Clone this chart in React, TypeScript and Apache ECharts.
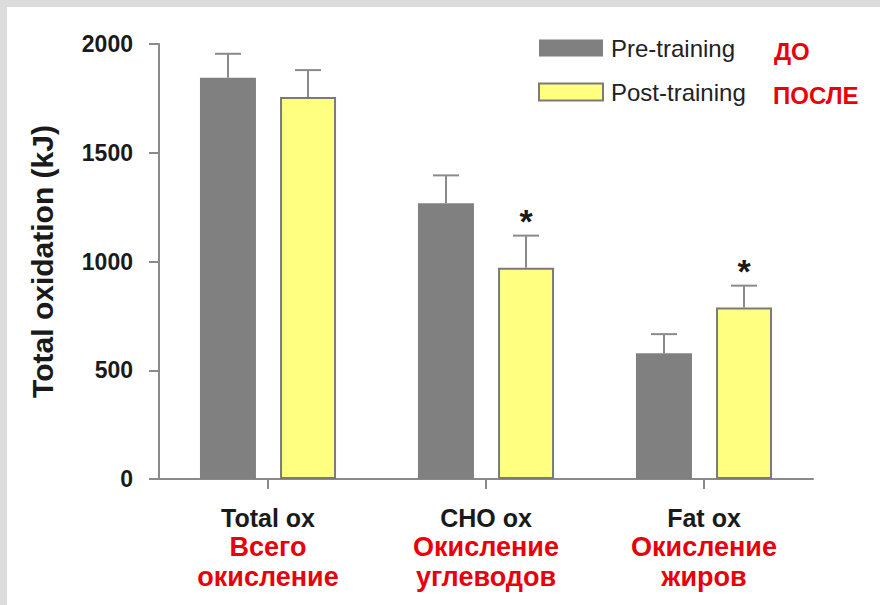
import React, { useEffect, useRef } from "react";
import * as echarts from "echarts";

const categories = ["Total ox", "CHO ox", "Fat ox"];
const categoriesRu = [
  ["Всего", "окисление"],
  ["Окисление", "углеводов"],
  ["Окисление", "жиров"],
];
const seriesNames = ["Pre-training", "Post-training"];
const seriesNamesRu = ["ДО", "ПОСЛЕ"];
const preValues = [1845, 1268, 578];
const postValues = [1756, 971, 788];
const preErr = [110, 128, 88];
const postErr = [124, 148, 101];
const preSignificant = [false, false, false];
const postSignificant = [false, true, true];
const yMin = 0;
const yMax = 2000;
const yInterval = 500;

const FONT = "'Liberation Sans', Arial, Helvetica, sans-serif";
const BAR_W = 56;
const BAR_OFFSET = 40;

function errorSeries(name: string, values: number[], errs: number[], sig: boolean[], offset: number) {
  return {
    type: "custom",
    name: name + " SD",
    z: 5,
    data: values.map((v, i) => [i, v, errs[i], sig[i] ? 1 : 0]),
    encode: { x: 0, y: 1 },
    renderItem: (params: any, api: any) => {
      const idx = api.value(0);
      const mean = api.value(1);
      const err = api.value(2);
      const s = api.value(3);
      const base = api.coord([idx, mean]);
      const top = api.coord([idx, mean + err]);
      const x = base[0] + offset;
      const style = { stroke: "#8a8a8a", lineWidth: 2 };
      const children: any[] = [
        { type: "line", shape: { x1: x, y1: base[1], x2: x, y2: top[1] }, style },
        { type: "line", shape: { x1: x - 13, y1: top[1], x2: x + 13, y2: top[1] }, style },
      ];
      if (s) {
        children.push({
          type: "text",
          x: x,
          y: top[1] - 15,
          style: {
            text: "*",
            fontSize: 34,
            fontWeight: "bold",
            fontFamily: FONT,
            fill: "#1a1a1a",
            align: "center",
            verticalAlign: "middle",
          },
        });
      }
      return { type: "group", children };
    },
  };
}

export default function App() {
  const ref = useRef<HTMLDivElement>(null);

  useEffect(() => {
    document.body.style.margin = "0";
    if (!ref.current) return;
    const chart = echarts.init(ref.current, undefined, { renderer: "svg" });
    const option: any = {
      animation: false,
      backgroundColor: "#ffffff",
      textStyle: { fontFamily: FONT },
      grid: { left: 159, right: 67, top: 44, bottom: 126, containLabel: false },
      legend: {
        data: seriesNames,
        orient: "vertical",
        left: 533,
        top: 31,
        itemWidth: 64,
        itemHeight: 17,
        itemGap: 20,
        icon: "rect",
        textStyle: { fontSize: 24, color: "#222", fontFamily: FONT, lineHeight: 24, padding: [0, 0, 0, 3] },
      },
      xAxis: {
        type: "category",
        data: categories,
        axisLine: { lineStyle: { color: "#8a8a8a", width: 2 } },
        axisTick: { show: true, alignWithLabel: true, length: 10, lineStyle: { color: "#8a8a8a", width: 2 } },
        axisLabel: {
          margin: 24,
          interval: 0,
          formatter: (v: string, i: number) =>
            `{b|${v}}\n` + categoriesRu[i].map((t) => `{r|${t}}`).join("\n"),
          rich: {
            b: { fontSize: 25, fontWeight: "bold", color: "#1a1a1a", lineHeight: 29, fontFamily: FONT },
            r: { fontSize: 27, fontWeight: "bold", color: "#e8000b", lineHeight: 30, fontFamily: FONT },
          },
        },
      },
      yAxis: {
        type: "value",
        min: yMin,
        max: yMax,
        interval: yInterval,
        name: "Total oxidation (kJ)",
        nameLocation: "middle",
        nameGap: 102,
        nameRotate: 90,
        nameTextStyle: { fontSize: 30, fontWeight: "bold", color: "#1a1a1a", fontFamily: FONT },
        splitLine: { show: false },
        axisLine: { show: true, lineStyle: { color: "#8a8a8a", width: 2 } },
        axisTick: { show: true, length: 10, lineStyle: { color: "#8a8a8a", width: 2 } },
        axisLabel: {
          margin: 26,
          fontSize: 23,
          fontWeight: "bold",
          color: "#1a1a1a",
          fontFamily: FONT,
          formatter: (v: number) => String(v),
        },
      },
      series: [
        {
          type: "bar",
          name: seriesNames[0],
          data: preValues,
          barWidth: BAR_W,
          barGap: "43%",
          itemStyle: { color: "#808080", borderColor: "#808080", borderWidth: 0 },
        },
        {
          type: "bar",
          name: seriesNames[1],
          data: postValues,
          barWidth: BAR_W,
          barGap: "43%",
          itemStyle: { color: "#ffff80", borderColor: "#7a7a7a", borderWidth: 2 },
        },
        errorSeries(seriesNames[0], preValues, preErr, preSignificant, -BAR_OFFSET),
        errorSeries(seriesNames[1], postValues, postErr, postSignificant, BAR_OFFSET),
      ],
      graphic: [
        { type: "rect", left: 0, top: 0, shape: { width: 880, height: 7 }, style: { fill: "#dcdcdc" }, silent: true },
        { type: "rect", left: 0, top: 0, shape: { width: 7, height: 605 }, style: { fill: "#dcdcdc" }, silent: true },
        {
          type: "text",
          left: 774,
          top: 39,
          style: { text: seriesNamesRu[0], fontSize: 24, fontWeight: "bold", fill: "#e8000b", fontFamily: FONT },
        },
        {
          type: "text",
          left: 773,
          top: 83,
          style: { text: seriesNamesRu[1], fontSize: 24, fontWeight: "bold", fill: "#e8000b", fontFamily: FONT },
        },
      ],
    };
    chart.setOption(option);
    return () => chart.dispose();
  }, []);

  return <div ref={ref} style={{ width: 880, height: 605 }} />;
}
